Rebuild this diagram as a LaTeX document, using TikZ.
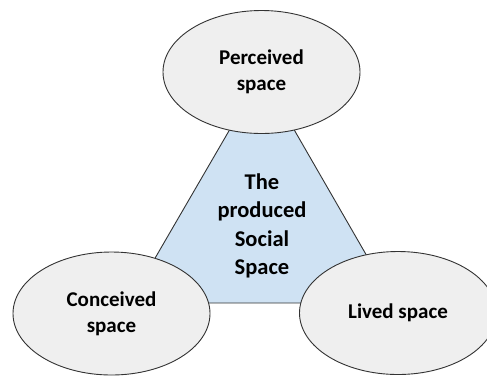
\documentclass[tikz,border=0pt]{standalone}
\usepackage{fontspec}
\setmainfont{Carlito}
\usetikzlibrary{shapes.geometric}

\definecolor{triblue}{HTML}{CFE2F3}
\definecolor{ovalgray}{HTML}{EFEFEF}

\begin{document}
\begin{tikzpicture}[x=1pt,y=-1pt,
    space/.style={ellipse, draw=black!80, fill=ovalgray, line width=0.9pt, align=center,
      minimum width=197pt, minimum height=123pt, inner sep=0pt,
      font=\bfseries\fontsize{21}{26}\selectfont},
    tri/.style={draw=black!80, fill=triblue, line width=0.9pt},
    middle/.style={align=center, font=\bfseries\fontsize{22.5}{28.5}\selectfont}]
\useasboundingbox (0,0) rectangle (487,376);

% Triangle behind
\coordinate (apex) at (262,74);
\coordinate (lcorner) at (129,303);
\coordinate (rcorner) at (394,303);
\draw[tri] (apex) -- (lcorner) -- (rcorner) -- cycle;
\node[middle] (social) at (262,226) {The\\produced\\Social\\Space};

% Ellipses
\node[space] (perceived) at (261.5,72) {Perceived\\space};
\node[space] (conceived) at (111.5,313.5) {Conceived\\space};
\node[space] (lived) at (398,313) {Lived space};
\end{tikzpicture}
\end{document}
